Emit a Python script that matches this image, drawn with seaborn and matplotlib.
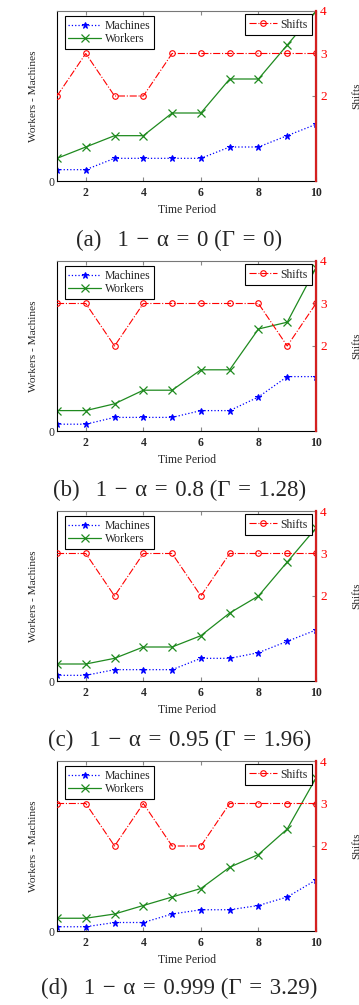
import matplotlib
matplotlib.use("Agg")
import matplotlib.pyplot as plt
import seaborn as sns
import numpy as np

sns.set_style("ticks")
plt.rcParams['font.family'] = ['Liberation Serif', 'DejaVu Serif']

periods = [1, 2, 3, 4, 5, 6, 7, 8, 9, 10]

machines_a = [2, 2, 4, 4, 4, 4, 6, 6, 8, 10]
workers_a = [4, 6, 8, 8, 12, 12, 18, 18, 24, 30]
shifts_a = [2, 3, 2, 2, 3, 3, 3, 3, 3, 3]

machines_b = [1, 1, 2, 2, 2, 3, 3, 5, 8, 8]
workers_b = [3, 3, 4, 6, 6, 9, 9, 15, 16, 24]
shifts_b = [3, 3, 2, 3, 3, 3, 3, 3, 2, 3]

machines_c = [1, 1, 2, 2, 2, 4, 4, 5, 7, 9]
workers_c = [3, 3, 4, 6, 6, 8, 12, 15, 21, 27]
shifts_c = [3, 3, 2, 3, 3, 2, 3, 3, 3, 3]

machines_d = [1, 1, 2, 2, 4, 5, 5, 6, 8, 12]
workers_d = [3, 3, 4, 6, 8, 10, 15, 18, 24, 36]
shifts_d = [3, 3, 2, 3, 2, 2, 3, 3, 3, 3]

left_max = [30, 25, 30, 40]
S = "\u2004"
G = "\u2002\u2009"
captions = [f"(a){G}1{S}\u2212{S}\u03b1{S}={S}0 (\u0393{S}={S}0)",
            f"(b){G}1{S}\u2212{S}\u03b1{S}={S}0.8 (\u0393{S}={S}1.28)",
            f"(c){G}1{S}\u2212{S}\u03b1{S}={S}0.95 (\u0393{S}={S}1.96)",
            f"(d){G}1{S}\u2212{S}\u03b1{S}={S}0.999 (\u0393{S}={S}3.29)"]

panels = [(machines_a, workers_a, shifts_a),
          (machines_b, workers_b, shifts_b),
          (machines_c, workers_c, shifts_c),
          (machines_d, workers_d, shifts_d)]

W, H = 359, 1005
fig = plt.figure(figsize=(W / 100, H / 100), dpi=100)

green = '#1f8a1f'
for i, (m, w, s) in enumerate(panels):
    off = 250 * i
    top_px = 11 + off
    bot_px = 181 + off
    ax = fig.add_axes([57 / W, 1 - bot_px / H, (316 - 57) / W, (bot_px - top_px) / H])
    sns.lineplot(x=periods, y=m, ax=ax, color='blue', linestyle=':', linewidth=0.9,
                 marker='*', markersize=4.5, markeredgecolor='blue', label='Machines')
    sns.lineplot(x=periods, y=w, ax=ax, color=green, linestyle='-', linewidth=0.9,
                 marker='x', markersize=6, markeredgewidth=0.9, markeredgecolor=green,
                 label='Workers')
    ax.set_xlim(1, 10)
    ax.set_ylim(0, left_max[i])
    ax.set_xticks([2, 4, 6, 8, 10])
    ax.set_yticks([0])
    ax.tick_params(axis='x', direction='in', length=3, color='#888888', top=True,
                   labelsize=8.5, pad=4)
    ax.tick_params(axis='y', direction='in', length=0, labelsize=8.5, pad=2)
    for lab in ax.get_xticklabels():
        lab.set_fontweight('bold')
    ax.set_xlabel('Time Period', fontsize=8.5, labelpad=4)
    ax.set_ylabel('Workers - Machines', fontsize=8.2, labelpad=7)
    ax.spines['top'].set_color('#777777')
    ax.spines['left'].set_color('black')
    ax.spines['bottom'].set_color('black')
    for sp in ax.spines.values():
        sp.set_linewidth(0.8)
    leg = ax.legend(loc='upper left', bbox_to_anchor=(0.03, 0.97), fontsize=8.5,
                    frameon=True, fancybox=False, edgecolor='black', framealpha=1,
                    borderpad=0.3, labelspacing=0.15, handlelength=2.8, handletextpad=0.3,
                    borderaxespad=0)
    leg.get_frame().set_linewidth(0.8)

    ax2 = ax.twinx()
    sns.lineplot(x=periods, y=s, ax=ax2, color='red', linestyle='-.', linewidth=0.8,
                 marker='o', markersize=4, markerfacecolor='none', markeredgecolor='red',
                 markeredgewidth=0.8, label='Shifts')
    ax2.set_ylim(0, 4)
    ax2.set_yticks([2, 3, 4])
    ax2.tick_params(axis='y', direction='in', length=3, color='#888888', labelsize=9.5,
                    labelcolor='red', pad=3)
    ax2.spines['right'].set_color('#d42020')
    ax2.spines['right'].set_linewidth(1.6)
    ax2.spines['top'].set_visible(False)
    ax2.spines['left'].set_visible(False)
    ax2.spines['bottom'].set_visible(False)
    ax2.set_ylabel('Shifts', fontsize=8.2, labelpad=18)
    leg2 = ax2.legend(loc='upper right', bbox_to_anchor=(0.985, 0.98), fontsize=8.5,
                      frameon=True, fancybox=False, edgecolor='black', framealpha=1,
                      borderpad=0.35, handlelength=2.4, handletextpad=0.3, borderaxespad=0)
    leg2.get_frame().set_linewidth(0.8)

    cap_y = [240, 490, 740, 988][i]
    fig.text(0.5, 1 - cap_y / H, captions[i], ha='center', va='center', fontsize=16.5)

fig.savefig('out.png', dpi=100)
